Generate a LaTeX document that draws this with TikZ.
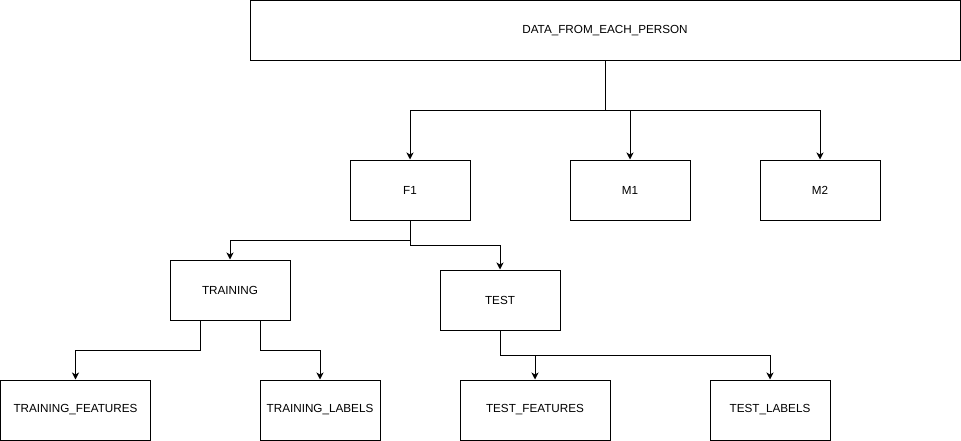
\documentclass[tikz,border=0pt]{standalone}
\usepackage{fontspec}
\setmainfont{Liberation Sans}
\usetikzlibrary{arrows.meta}
\usetikzlibrary{shapes}

\begin{document}
\begin{tikzpicture}[x=1pt,y=-1pt]
   \tikzset{BoxStyle/.style={draw,line width=1pt,rectangle,minimum width=120pt,
      minimum height=60pt,inner sep=0pt,font=\fontsize{11.7}{14}\selectfont}}
   \tikzset{WideStyle/.style={BoxStyle,minimum width=150pt}}
   \tikzset{EdgeStyle/.style={line width=1pt,-{Stealth[length=7pt,width=7pt,inset=2pt]}}}
   \useasboundingbox (0,0) rectangle (961,441);
   \node[BoxStyle,minimum width=710pt] (data) at (605,30.5) {DATA\_FROM\_EACH\_PERSON};
   \node[BoxStyle] (f1) at (410,190) {F1};
   \node[BoxStyle] (m1) at (630,190) {M1};
   \node[BoxStyle] (m2) at (820,190) {M2};
   \node[BoxStyle] (training) at (230,290) {TRAINING};
   \node[BoxStyle] (test) at (500,300) {TEST};
   \node[WideStyle] (trfeat) at (75.5,410) {TRAINING\_FEATURES};
   \node[BoxStyle] (trlab) at (320,410) {TRAINING\_LABELS};
   \node[WideStyle] (tefeat) at (535,410) {TEST\_FEATURES};
   \node[BoxStyle] (telab) at (770,410) {TEST\_LABELS};
   \draw[EdgeStyle] (data.south) -- ++(0,50) -| (f1.north);
   \draw[EdgeStyle] (data.south) -- ++(0,50) -| (m1.north);
   \draw[EdgeStyle] (data.south) -- ++(0,50) -| (m2.north);
   \draw[EdgeStyle] (f1.south) -- ++(0,20) -| (training.north);
   \draw[EdgeStyle] (f1.south) -- ++(0,25) -| (test.north);
   \draw[EdgeStyle] ([xshift=-30pt]training.south) -- ++(0,30) -| (trfeat.north);
   \draw[EdgeStyle] ([xshift=30pt]training.south) -- ++(0,30) -| (trlab.north);
   \draw[EdgeStyle] (test.south) -- ++(0,25) -| (tefeat.north);
   \draw[EdgeStyle] (test.south) -- ++(0,25) -| (telab.north);
\end{tikzpicture}
\end{document}
